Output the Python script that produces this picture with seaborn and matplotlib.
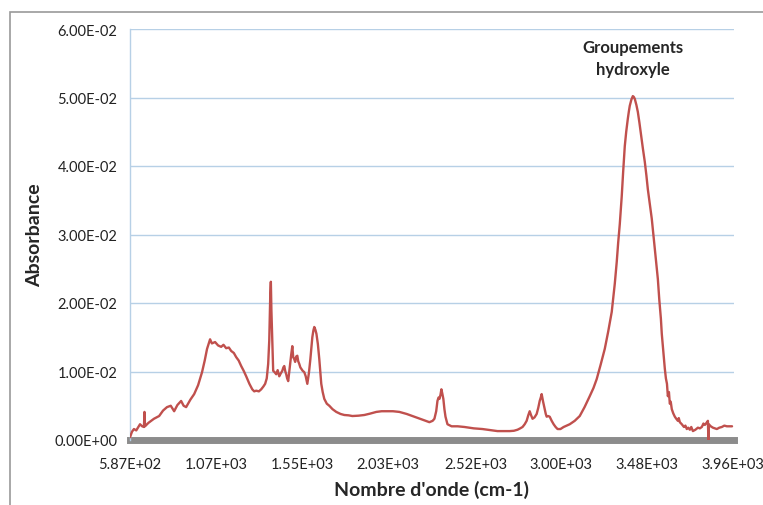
import matplotlib
matplotlib.use("Agg")
import matplotlib.pyplot as plt
import seaborn as sns
import pandas as pd
from matplotlib.patches import Rectangle

# spectrum (wavenumber in cm-1, absorbance)
wavenumber = [
    587, 598, 609, 622, 643, 655, 665, 668, 671, 690, 705, 721, 735, 750, 772, 794,
    815, 834, 852, 873, 887, 901, 925, 946, 968, 990, 1005, 1018, 1035, 1045, 1063,
    1080, 1097, 1110, 1125, 1140, 1153, 1168, 1181, 1195, 1209, 1223, 1237, 1255,
    1271, 1282, 1293, 1308, 1321, 1333, 1343, 1352, 1360, 1366, 1369, 1372, 1375,
    1378, 1383, 1388, 1396, 1405, 1413, 1422, 1430, 1439, 1445, 1450, 1456, 1461,
    1466, 1472, 1478, 1483, 1489, 1495, 1500, 1506, 1511, 1517, 1523, 1528, 1534,
    1540, 1545, 1553, 1562, 1570, 1579, 1588, 1596, 1602, 1607, 1613, 1618, 1624,
    1630, 1638, 1646, 1652, 1657, 1665, 1674, 1688, 1702, 1720, 1741, 1765, 1786,
    1810, 1831, 1865, 1898, 1930, 1965, 1995, 2021, 2058, 2094, 2135, 2178, 2220,
    2262, 2280, 2290, 2300, 2307, 2313, 2318, 2324, 2329, 2334, 2340, 2346, 2352,
    2363, 2386, 2420, 2458, 2510, 2559, 2600, 2643, 2680, 2711, 2735, 2755, 2770,
    2783, 2795, 2806, 2815, 2823, 2831, 2839, 2850, 2862, 2871, 2879, 2885, 2890,
    2898, 2907, 2913, 2918, 2926, 2935, 2946, 2957, 2968, 2979, 2995, 3013, 3030,
    3047, 3075, 3103, 3130, 3159, 3180, 3198, 3220, 3243, 3262, 3282, 3290, 3299,
    3305, 3310, 3318, 3327, 3333, 3338, 3346, 3355, 3363, 3372, 3378, 3383, 3392,
    3400, 3405, 3411, 3420, 3428, 3437, 3445, 3456, 3467, 3476, 3484, 3495, 3506,
    3515, 3523, 3532, 3540, 3548, 3557, 3562, 3568, 3574, 3579, 3585, 3591, 3596,
    3602, 3607, 3612, 3618, 3626, 3635, 3643, 3652, 3657, 3663, 3674, 3686, 3694,
    3702, 3710, 3719, 3727, 3736, 3750, 3764, 3775, 3786, 3795, 3803, 3812, 3820,
    3823, 3825, 3836, 3848, 3859, 3870, 3884, 3898, 3912, 3926, 3940, 3955,
]
absorbance_e3 = [
    0.4, 1.2, 1.6, 1.4, 2.3, 2.0, 1.9, 4.1, 2.0, 2.5, 2.8, 3.1, 3.3, 3.5, 4.3, 4.8,
    5.0, 4.2, 5.1, 5.7, 5.0, 4.8, 5.9, 6.7, 8.0, 9.9, 11.6, 13.3, 14.7, 14.1, 14.3,
    13.8, 13.6, 13.9, 13.4, 13.5, 13.0, 12.7, 12.1, 11.6, 10.8, 10.1, 9.3, 8.2,
    7.4, 7.1, 7.2, 7.1, 7.4, 7.8, 8.2, 9.0, 11.1, 14.5, 17.7, 21.5, 23.1, 19.0,
    14.7, 10.1, 9.9, 9.6, 10.2, 9.3, 9.7, 10.1, 10.6, 10.8, 10.0, 9.6, 9.0, 8.6,
    10.0, 11.1, 12.5, 13.7, 12.1, 11.8, 11.4, 12.2, 12.3, 11.5, 11.1, 10.6, 10.4,
    10.1, 9.9, 9.3, 8.2, 9.8, 11.8, 13.6, 15.0, 16.0, 16.5, 16.1, 15.5, 14.0,
    11.8, 9.8, 8.2, 7.0, 6.0, 5.3, 5.0, 4.5, 4.1, 3.8, 3.65, 3.6, 3.5, 3.55, 3.65,
    3.85, 4.1, 4.2, 4.2, 4.2, 4.1, 3.8, 3.4, 3.0, 2.6, 2.8, 3.1, 4.2, 5.7, 6.2,
    6.0, 6.6, 7.4, 6.8, 6.0, 4.5, 3.4, 2.3, 2.0, 2.0, 1.9, 1.7, 1.6, 1.45, 1.3,
    1.3, 1.3, 1.35, 1.5, 1.7, 1.9, 2.3, 2.8, 3.6, 4.2, 3.6, 3.1, 3.3, 3.8, 4.7,
    5.7, 6.2, 6.7, 5.6, 4.5, 3.8, 3.4, 3.5, 3.4, 2.8, 2.3, 1.9, 1.6, 1.6, 1.9,
    2.1, 2.3, 2.8, 3.5, 4.8, 6.4, 7.6, 8.9, 11.0, 13.3, 15.8, 18.7, 20.6, 22.8,
    24.5, 26.0, 28.8, 31.5, 33.8, 35.6, 39.2, 42.9, 45.0, 46.9, 48.0, 48.8, 49.7,
    50.2, 50.1, 49.8, 48.9, 47.9, 46.3, 44.7, 42.6, 40.6, 38.6, 36.6, 34.5, 32.3,
    30.0, 27.9, 25.7, 23.5, 20.5, 17.7, 15.5, 13.7, 11.8, 10.4, 9.0, 8.2, 6.4,
    7.0, 5.3, 5.6, 4.5, 3.9, 3.4, 3.1, 2.8, 3.2, 2.6, 2.3, 1.9, 2.1, 1.6, 1.8,
    1.5, 1.9, 1.3, 1.5, 1.8, 1.7, 1.9, 2.4, 2.2, 2.5, 2.8, -0.1, 2.3, 2.0, 1.8,
    1.7, 1.6, 1.8, 1.9, 2.1, 2.0, 2.0, 2.0,
]

x_ticks = [587, 1070, 1550, 2030, 2520, 3000, 3480, 3960]
x_tick_labels = ["5.87E+02", "1.07E+03", "1.55E+03", "2.03E+03",
                 "2.52E+03", "3.00E+03", "3.48E+03", "3.96E+03"]
y_ticks = [0.0, 0.01, 0.02, 0.03, 0.04, 0.05, 0.06]
y_tick_labels = ["0.00E+00", "1.00E-02", "2.00E-02", "3.00E-02",
                 "4.00E-02", "5.00E-02", "6.00E-02"]

df = pd.DataFrame({"wavenumber": wavenumber,
                   "absorbance": [a / 1000 for a in absorbance_e3]})

sns.set_style("white")
plt.rcParams["font.family"] = ["Lato", "DejaVu Sans"]

fig = plt.figure(figsize=(7.63, 5.06), dpi=100)
ax = fig.add_axes([130 / 763, 1 - 441 / 506, 604 / 763, 411 / 506])

# outer chart frame (top and left edges visible)
fig.patches.append(Rectangle((10 / 763, -0.2), 1.2, 1 - 13 / 506 + 0.2,
                             transform=fig.transFigure, fill=False,
                             edgecolor="#9a9a9a", linewidth=1.2, zorder=0))

sns.lineplot(data=df, x="wavenumber", y="absorbance", ax=ax, sort=False,
             estimator=None, color="#c0504d", linewidth=1.7, zorder=3)

ax.set_xlim(587, 3966)
ax.set_ylim(0, 0.06)
ax.set_xticks(x_ticks)
ax.set_xticklabels(x_tick_labels, fontsize=10.5, color="#222222")
ax.set_yticks(y_ticks)
ax.set_yticklabels(y_tick_labels, fontsize=10.5, color="#222222")
ax.tick_params(axis="both", length=0)
ax.tick_params(axis="x", pad=12)
ax.tick_params(axis="y", pad=9)

ax.grid(axis="y", color="#b7d0e6", linewidth=1.0)
ax.grid(axis="x", visible=False)
for side in ["top", "right"]:
    ax.spines[side].set_visible(False)
ax.spines["left"].set_color("#b7d0e6")
ax.spines["left"].set_linewidth(1.0)
ax.spines["bottom"].set_color("#8c8c8c")
ax.spines["bottom"].set_linewidth(5)
ax.spines["bottom"].set_zorder(2)

ax.set_xlabel("Nombre d'onde (cm-1)", fontsize=14, fontweight="bold", labelpad=7)
ax.set_ylabel("Absorbance", fontsize=14, fontweight="bold", labelpad=8)

ax.text(3400, 0.0558, "Groupements\nhydroxyle", ha="center", va="center",
        fontsize=12, fontweight="bold", linespacing=1.5)

fig.savefig("out.png", dpi=100)
